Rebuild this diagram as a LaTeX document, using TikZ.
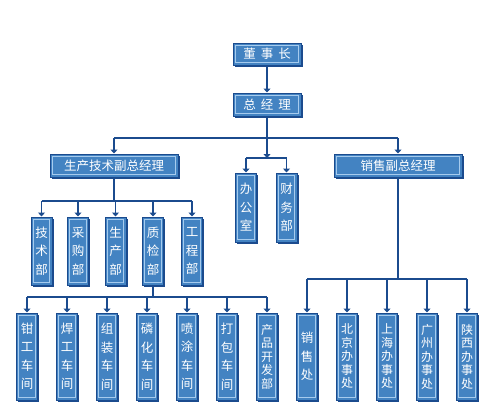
\documentclass[tikz,border=0pt]{standalone}
\usepackage{fontspec}
\newfontfamily\cjk{Noto Sans CJK SC}
\usetikzlibrary{arrows.meta, shadows}
\definecolor{boxfill}{HTML}{4383C2}
\definecolor{boxline}{HTML}{1B4B8E}
\definecolor{boxinner}{HTML}{A6CBEE}
\definecolor{wire}{HTML}{1B4B8E}

\begin{document}
\begin{tikzpicture}[
    x=1pt, y=-1pt,
    box/.style={draw=boxline, line width=1pt, fill=boxfill, text=white, inner sep=0pt, align=center,
      drop shadow={shadow xshift=1.8pt, shadow yshift=-1.8pt, fill=boxline, opacity=1},
      path picture={\draw[boxinner, line width=0.9pt] ([shift={(2.3pt,-2.3pt)}]path picture bounding box.north west) rectangle ([shift={(-2.3pt,2.3pt)}]path picture bounding box.south east);}},
    hbox/.style={box, minimum width=68pt, minimum height=23pt, font=\cjk\fontsize{12.5}{14}\selectfont},
    vbox/.style={box, minimum width=21pt, minimum height=68pt, font=\cjk\fontsize{12.5}{18.5}\selectfont},
    tallbox/.style={vbox, minimum height=87pt, font=\cjk\fontsize{12.5}{18.5}\selectfont},
    packbox/.style={tallbox, font=\cjk\fontsize{12}{13.5}\selectfont},
    wire/.style={draw=wire, line width=1.3pt},
    >={Triangle[width=7pt, length=4pt]}
    ]
\useasboundingbox (0,0) rectangle (494,413);

\node[hbox, minimum height=22pt] (ceo) at (267,54) {董\hspace{5pt}事\hspace{5pt}长};
\node[hbox] (gm) at (267,104.5) {总\hspace{5pt}经\hspace{5pt}理};
\node[hbox, minimum width=128pt] (prod) at (114,165.5) {生产技术副总经理};
\node[hbox, minimum width=128pt] (sales) at (398,165.5) {销售副总经理};
\node[vbox, minimum height=69pt] (office) at (246,207.5) {办\\公\\室};
\node[vbox, minimum height=69pt] (finance) at (286.5,207.5) {财\\务\\部};

% departments under production
\foreach \n/\x/\t in {d1/41.5/技\\术\\部, d2/78/采\\购\\部, d3/115.5/生\\产\\部,
            d4/153/质\\检\\部, d5/192/工\\程\\部}
    \node[vbox] (\n) at (\x,251) {\t};

% workshops
\foreach \n/\x/\t in {w1/27/钳\\工\\车\\间, w2/67/焊\\工\\车\\间, w3/107/组\\装\\车\\间,
            w4/147/磷\\化\\车\\间, w5/187/喷\\涂\\车\\间, w6/227/打\\包\\车\\间}
    \node[tallbox] (\n) at (\x,356.5) {\t};
\node[packbox] (w7) at (267,356.5) {产\\品\\开\\发\\部};

% offices
\node[tallbox] (s1) at (307,356.5) {销\\售\\处};
\foreach \n/\x/\t in {s2/347/北\\京\\办\\事\\处, s3/387/上\\海\\办\\事\\处,
            s4/427/广\\州\\办\\事\\处, s5/467/陕\\西\\办\\事\\处}
    \node[packbox] (\n) at (\x,356.5) {\t};

\coordinate (j0) at (267,138);
\coordinate (j1) at (267,158);
\coordinate (j2) at (114,201);
\coordinate (j3) at (153,297);
\coordinate (j4) at (398,279);

\draw[wire, ->] (ceo) -- (gm);
\draw[wire] (gm) -- (j0);
\draw[wire] (prod.north |- j0) -- (sales.north |- j0);
\draw[wire, ->] (j0) -- (j1);
\draw[wire] (office.north |- j1) -- (finance.north |- j1);
\foreach \i in {prod, sales}
    \draw[wire, ->] (\i.north |- j0) -- (\i.north);
\foreach \i in {office, finance}
    \draw[wire, ->] (\i.north |- j1) -- (\i.north);

\draw[wire] (prod) -- (j2);
\draw[wire] (d1.north |- j2) -- (d5.north |- j2);
\foreach \i in {d1, d2, d3, d4, d5}
    \draw[wire, ->] (\i.north |- j2) -- (\i.north);

\draw[wire] (d4) -- (j3);
\draw[wire] (w1.north |- j3) -- (w7.north |- j3);
\foreach \i in {w1, w2, w3, w4, w5, w6, w7}
    \draw[wire, ->] (\i.north |- j3) -- (\i.north);

\draw[wire] (sales) -- (j4);
\draw[wire] (s1.north |- j4) -- (s5.north |- j4);
\foreach \i in {s1, s2, s3, s4, s5}
    \draw[wire, ->] (\i.north |- j4) -- (\i.north);

\end{tikzpicture}
\end{document}
